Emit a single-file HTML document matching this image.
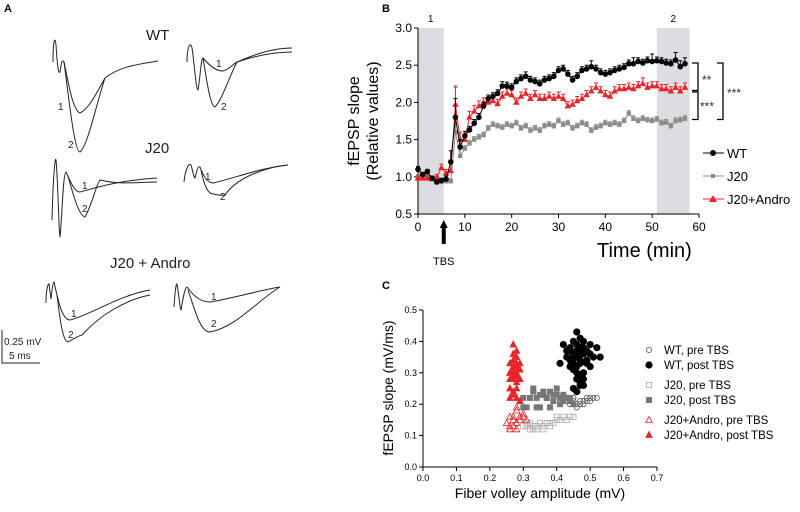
<!DOCTYPE html>
<html><head><meta charset="utf-8"><style>
body{margin:0;background:#fff}
svg{font-family:"Liberation Sans",sans-serif}
</style></head><body>
<svg width="800" height="507" viewBox="0 0 800 507">
<g fill="none" stroke="#222" stroke-width="1">
<text x="4" y="12" font-size="11" font-weight="bold" fill="#000" stroke="none">A</text>
<text x="146" y="40" font-size="15" fill="#222" stroke="none">WT</text>
<path d="M53,62 C53,40 55,35 56,45 C57,60 58,75 60,72 C61,65 62,58 64,62 C67,75 72,110 80,113 C90,108 98,90 105,78 C120,66 140,64 158,61"/>
<path d="M64,62 C68,90 74,152 80,152 C88,145 96,105 105,78"/>
<path d="M187,62 C187,48 190,40 192,48 C194,60 196,90 198,90 C200,80 201,58 203,58 C208,64 215,71 223,71 C230,69 233,64 237,62 C255,56 275,52 292,52"/>
<path d="M203,58 C206,75 210,107 215,107 C222,100 230,75 237,62 C255,54 275,48 292,48"/>
<text x="58" y="110" font-size="10" fill="#222" stroke="none">1</text>
<text x="68" y="148" font-size="10" fill="#222" stroke="none">2</text>
<text x="216" y="67" font-size="10" fill="#222" stroke="none">1</text>
<text x="221" y="110" font-size="10" fill="#222" stroke="none">2</text>
<text x="145" y="153" font-size="15" fill="#222" stroke="none">J20</text>
<path d="M52,220 C53,180 55,155 56,160 C58,180 59,237 60,237 C62,220 63,172 66,172 C70,180 74,192 80,192 C95,188 120,180 157,178"/>
<path d="M68,176 C72,190 78,215 85,217 C92,205 96,185 100,180 C120,185 140,182 157,182"/>
<path d="M184,182 C185,170 189,162 191,165 C193,172 194,178 195,178 C197,170 198,166 200,167 C203,175 207,183 213,183 C235,178 260,168 288,165"/>
<path d="M201,170 C204,185 208,194 213,194 C220,196 223,195 225,195 C235,180 260,168 288,165"/>
<text x="82" y="189" font-size="10" fill="#222" stroke="none">1</text>
<text x="82" y="212" font-size="10" fill="#222" stroke="none">2</text>
<text x="205" y="180" font-size="10" fill="#222" stroke="none">1</text>
<text x="220" y="200" font-size="10" fill="#222" stroke="none">2</text>
<text x="110" y="268" font-size="15" fill="#222" stroke="none">J20 + Andro</text>
<path d="M46,303 C46,290 48,283 49,284 C50,292 51,299 51,299 C52,290 53,282 54,282 C58,300 62,320 70,320 C90,315 120,295 150,290"/>
<path d="M57,295 C60,320 63,342 68,342 C75,338 80,335 82,335 C100,315 125,300 150,295"/>
<path d="M174,307 C175,292 176,283 177,284 C179,295 180,310 181,310 C183,298 185,287 187,287 C195,298 202,302 210,302 C235,298 260,290 280,287"/>
<path d="M188,290 C195,310 200,332 210,332 C235,328 258,300 280,287"/>
<text x="71" y="317" font-size="10" fill="#222" stroke="none">1</text>
<text x="68" y="338" font-size="10" fill="#222" stroke="none">2</text>
<text x="211" y="300" font-size="10" fill="#222" stroke="none">1</text>
<text x="211" y="327" font-size="10" fill="#222" stroke="none">2</text>
<path d="M2,330 V363 H40"/>
<text x="4" y="345" font-size="10" fill="#222" stroke="none">0.25 mV</text>
<text x="9" y="359" font-size="10" fill="#222" stroke="none">5 ms</text>
</g>
<g id="panelB"></g>
<g id="panelC"></g>
</svg>
<script>
const NS='http://www.w3.org/2000/svg';
function mk(p,t,a){const e=document.createElementNS(NS,t);for(const k in a)e.setAttribute(k,a[k]);p.appendChild(e);return e;}
// ---- Panel B data ----
const bTimes=[0,1,2,3,4,5,6,7,8,9,10,11,12,13,14,15,16,17,18,19,20,21,22,23,24,25,26,27,28,29,30,31,32,33,34,35,36,37,38,39,40,41,42,43,44,45,46,47,48,49,50,51,52,53,54,55,56,57];
const wtValues=[1.1,1.03,1.07,0.98,0.93,0.95,0.97,1.2,1.8,1.4,1.55,1.63,1.72,1.8,1.95,2.05,2.08,2.12,2.22,2.22,2.2,2.28,2.32,2.35,2.3,2.28,2.25,2.3,2.32,2.35,2.43,2.45,2.38,2.3,2.35,2.43,2.45,2.48,2.45,2.4,2.38,2.4,2.43,2.45,2.47,2.52,2.52,2.55,2.53,2.56,2.55,2.56,2.55,2.53,2.52,2.57,2.48,2.52];
const j20Values=[1.0,1.0,1.0,0.98,0.97,0.93,0.94,0.94,1.6,1.28,1.38,1.45,1.5,1.53,1.56,1.65,1.7,1.68,1.66,1.7,1.68,1.72,1.65,1.68,1.62,1.65,1.62,1.68,1.7,1.68,1.75,1.7,1.72,1.65,1.68,1.72,1.7,1.62,1.66,1.68,1.72,1.7,1.72,1.7,1.75,1.85,1.78,1.75,1.78,1.76,1.75,1.77,1.72,1.73,1.68,1.75,1.76,1.78];
const androValues=[0.98,0.98,0.98,0.97,1.0,1.12,1.05,1.08,1.97,1.5,1.5,1.8,1.88,1.95,2.0,2.0,2.02,1.98,2.08,2.12,2.1,2.0,2.08,2.12,2.05,2.1,2.05,2.05,2.08,2.05,2.08,2.05,1.95,1.97,2.02,2.05,2.1,2.15,2.2,2.15,2.1,2.08,2.15,2.18,2.18,2.2,2.18,2.22,2.25,2.2,2.22,2.22,2.18,2.18,2.15,2.2,2.15,2.2];
const wtErr=[0.04,0.03,0.03,0.03,0.03,0.03,0.04,0.15,0.25,0.1,0.06,0.05,0.05,0.05,0.05,0.05,0.05,0.05,0.06,0.05,0.05,0.05,0.05,0.06,0.05,0.05,0.05,0.05,0.05,0.05,0.05,0.05,0.05,0.05,0.05,0.05,0.05,0.08,0.05,0.05,0.05,0.05,0.05,0.05,0.05,0.05,0.08,0.05,0.05,0.05,0.1,0.05,0.05,0.05,0.05,0.1,0.08,0.08];
const j20Err=[0.03,0.03,0.03,0.03,0.03,0.03,0.03,0.03,0.6,0.1,0.04,0.04,0.04,0.04,0.04,0.04,0.04,0.04,0.04,0.04,0.04,0.04,0.04,0.04,0.04,0.04,0.04,0.04,0.04,0.04,0.04,0.04,0.04,0.04,0.04,0.04,0.04,0.04,0.04,0.04,0.04,0.04,0.04,0.04,0.04,0.04,0.04,0.04,0.04,0.04,0.04,0.04,0.04,0.04,0.04,0.04,0.04,0.04];
const androErr=[0.03,0.03,0.03,0.03,0.03,0.05,0.05,0.1,0.25,0.1,0.08,0.08,0.08,0.07,0.06,0.06,0.06,0.06,0.06,0.06,0.06,0.06,0.06,0.06,0.06,0.06,0.06,0.06,0.06,0.06,0.06,0.06,0.06,0.06,0.06,0.06,0.06,0.06,0.06,0.06,0.06,0.06,0.06,0.06,0.06,0.06,0.06,0.06,0.08,0.06,0.06,0.06,0.06,0.06,0.06,0.06,0.06,0.06];
const bXTicks=[0,10,20,30,40,50,60];
const bYTicks=[0.5,1.0,1.5,2.0,2.5,3.0];
// ---- Panel C data ----
const wtPreX=[0.43,0.44,0.45,0.46,0.47,0.48,0.49,0.50,0.51,0.52,0.46,0.47,0.44,0.50,0.48,0.45,0.42,0.49];
const wtPreY=[0.21,0.20,0.21,0.20,0.21,0.21,0.22,0.21,0.22,0.22,0.19,0.20,0.21,0.22,0.20,0.22,0.21,0.21];
const wtPostX=[0.41,0.42,0.43,0.44,0.45,0.46,0.47,0.48,0.49,0.50,0.51,0.52,0.53,0.44,0.45,0.46,0.47,0.48,0.49,0.50,0.45,0.46,0.47,0.48,0.46,0.47,0.48,0.45,0.46,0.47,0.48,0.46,0.47,0.45,0.49,0.43,0.44,0.46,0.47,0.48,0.46,0.45,0.47,0.44,0.50];
const wtPostY=[0.33,0.39,0.35,0.38,0.40,0.37,0.36,0.38,0.37,0.39,0.35,0.38,0.35,0.34,0.33,0.35,0.34,0.36,0.33,0.32,0.31,0.30,0.29,0.30,0.28,0.27,0.26,0.25,0.24,0.26,0.28,0.43,0.41,0.36,0.34,0.37,0.32,0.32,0.38,0.40,0.39,0.35,0.33,0.37,0.36];
const j20PreX=[0.30,0.31,0.32,0.33,0.34,0.35,0.36,0.37,0.38,0.39,0.40,0.41,0.42,0.43,0.44,0.45,0.32,0.34,0.36,0.38,0.40,0.33,0.31];
const j20PreY=[0.13,0.14,0.12,0.13,0.12,0.14,0.13,0.14,0.13,0.14,0.15,0.15,0.16,0.15,0.16,0.16,0.14,0.13,0.12,0.14,0.16,0.12,0.13];
const j20PostX=[0.30,0.31,0.32,0.33,0.34,0.35,0.36,0.37,0.38,0.39,0.40,0.41,0.42,0.43,0.44,0.45,0.33,0.35,0.37,0.39,0.41,0.34,0.36,0.38,0.40,0.30,0.42,0.44];
const j20PostY=[0.22,0.19,0.22,0.24,0.22,0.19,0.23,0.22,0.24,0.21,0.23,0.22,0.21,0.22,0.21,0.20,0.25,0.23,0.22,0.23,0.20,0.19,0.24,0.19,0.25,0.19,0.23,0.22];
const androPreX=[0.25,0.26,0.27,0.28,0.29,0.30,0.31,0.26,0.27,0.28,0.29,0.28,0.27,0.30,0.26,0.28];
const androPreY=[0.14,0.12,0.16,0.18,0.15,0.17,0.15,0.16,0.13,0.12,0.16,0.19,0.15,0.16,0.13,0.14];
const androPostX=[0.27,0.28,0.26,0.27,0.28,0.29,0.27,0.28,0.26,0.27,0.28,0.29,0.27,0.28,0.26,0.27,0.28,0.29,0.26,0.27,0.28,0.27,0.28,0.29,0.26,0.27,0.28,0.27,0.28,0.26];
const androPostY=[0.39,0.37,0.33,0.34,0.35,0.33,0.32,0.31,0.30,0.30,0.32,0.31,0.29,0.29,0.28,0.28,0.27,0.28,0.25,0.24,0.25,0.23,0.22,0.21,0.22,0.36,0.30,0.31,0.33,0.30];
const cXTicks=[0,0.1,0.2,0.3,0.4,0.5,0.6,0.7];
const cYTicks=[0,0.1,0.2,0.3,0.4,0.5];

// ---- Draw B ----
const B=document.getElementById('panelB');
const bx=v=>418+v*(699-418)/60, by=v=>214-(v-0.5)*(214-28)/2.5;
mk(B,'text',{x:382,y:12,'font-size':11,'font-weight':'bold'}).textContent='B';
const band1=mk(B,'rect',{x:bx(0),y:by(3),width:bx(5.5)-bx(0),height:by(0.5)-by(3),fill:'#dcdde0'});

const band2=mk(B,'rect',{x:bx(51),y:by(3),width:bx(58)-bx(51),height:by(0.5)-by(3),fill:'#dcdde0'});

mk(B,'text',{x:bx(2.7),y:22,'font-size':10,'text-anchor':'middle'}).textContent='1';
mk(B,'text',{x:bx(54.5),y:22,'font-size':10,'text-anchor':'middle'}).textContent='2';
const bax=mk(B,'path',{d:`M${bx(0)},${by(3)} V${by(0.5)} H${bx(60)}`,stroke:'#000',fill:'none'});

bXTicks.forEach(t=>{mk(B,'line',{x1:bx(t),x2:bx(t),y1:by(0.5),y2:by(0.5)+4,stroke:'#000'});
 const tx=mk(B,'text',{x:bx(t),y:by(0.5)+17,'font-size':12,'text-anchor':'middle'});tx.textContent=t;
 });
bYTicks.forEach(t=>{mk(B,'line',{x1:bx(0)-4,x2:bx(0),y1:by(t),y2:by(t),stroke:'#000'});
 const tx=mk(B,'text',{x:bx(0)-6,y:by(t)+4,'font-size':12,'text-anchor':'end'});tx.textContent=t.toFixed(1);
 });
const byl=mk(B,'text',{transform:'translate(362,121) rotate(-90)','font-size':16,'text-anchor':'middle'});

mk(byl,'tspan',{x:0,dy:-3}).textContent='fEPSP slope';mk(byl,'tspan',{x:0,dy:19}).textContent='(Relative values)';
const bxl=mk(B,'text',{x:597,y:257,'font-size':20});bxl.textContent='Time (min)';

const arr=mk(B,'path',{d:`M${bx(5.5)},220 L${bx(5.5)-4},228 H${bx(5.5)-2} V244 H${bx(5.5)+2} V228 H${bx(5.5)+4} Z`,fill:'#000'});

const tbs=mk(B,'text',{x:bx(5.5),y:265,'font-size':11,'text-anchor':'middle'});tbs.textContent='TBS';

function series(vals,errs,color,shape,name){
 const g=mk(B,'g',{});
 mk(g,'polyline',{points:bTimes.map((t,i)=>bx(t)+','+by(vals[i])).join(' '),fill:'none',stroke:color,'stroke-width':1});
 bTimes.forEach((t,i)=>{const x=bx(t),y=by(vals[i]),ye=by(vals[i]+errs[i]);
  mk(g,'path',{d:`M${x},${y} V${ye} M${x-2},${ye} H${x+2}`,stroke:color,fill:'none'});
  let m;
  if(shape==='c')m=mk(g,'circle',{cx:x,cy:y,r:2.8,fill:color});
  else if(shape==='s')m=mk(g,'rect',{x:x-2.2,y:y-2.2,width:4.4,height:4.4,fill:color});
  else m=mk(g,'path',{d:`M${x},${y-3.5} L${x+3.3},${y+2.3} L${x-3.3},${y+2.3} Z`,fill:color});
  });
}
series(j20Values,j20Err,'#8c8c8c','s','j20-series');
series(androValues,androErr,'#e8252a','t','andro-series');
series(wtValues,wtErr,'#000','c','wt-series');
const br=mk(B,'path',{d:`M692,${by(2.53)} H698 V${by(2.16)} H692 M692,${by(2.14)} H698 V${by(1.77)} H692 M717,${by(2.53)} H723 V${by(1.77)} H717`,stroke:'#000','stroke-width':1.3,fill:'none'});

mk(B,'text',{x:702,y:by(2.33)+6,'font-size':12,fill:'#333'}).textContent='**';
mk(B,'text',{x:700,y:by(1.97)+6,'font-size':12,fill:'#333'}).textContent='***';
mk(B,'text',{x:727,y:by(2.15)+6,'font-size':12,fill:'#333'}).textContent='***';
[['WT','#000','c',153],['J20','#8c8c8c','s',176],['J20+Andro','#e8252a','t',199]].forEach(([l,c,s,y])=>{
 const g=mk(B,'g',{});
 mk(g,'line',{x1:703,x2:724,y1:y,y2:y,stroke:c});
 if(s==='c')mk(g,'circle',{cx:713,cy:y,r:3,fill:c});else if(s==='s')mk(g,'rect',{x:711,y:y-2,width:4,height:4,fill:c});
 else mk(g,'path',{d:`M713,${y-4} L717,${y+3} L709,${y+3} Z`,fill:c});
 mk(g,'text',{x:727,y:y+5,'font-size':13}).textContent=l;});
// ---- Draw C ----
const C=document.getElementById('panelC');
const cx=v=>423+v*(657-423)/0.7, cy=v=>467-v*(467-310)/0.5;
mk(C,'text',{x:382,y:289,'font-size':11,'font-weight':'bold'}).textContent='C';
const cax=mk(C,'path',{d:`M${cx(0)},${cy(0.5)} V${cy(0)} H${cx(0.7)}`,stroke:'#000',fill:'none'});

cXTicks.forEach(t=>{mk(C,'line',{x1:cx(t),x2:cx(t),y1:cy(0),y2:cy(0)+4,stroke:'#000'});
 const tx=mk(C,'text',{x:cx(t),y:cy(0)+14,'font-size':9,'text-anchor':'middle'});tx.textContent=t.toFixed(1);
 });
cYTicks.forEach(t=>{mk(C,'line',{x1:cx(0)-4,x2:cx(0),y1:cy(t),y2:cy(t),stroke:'#000'});
 const tx=mk(C,'text',{x:cx(0)-6,y:cy(t)+3,'font-size':9,'text-anchor':'end'});tx.textContent=t.toFixed(1);
 });
const cyl=mk(C,'text',{transform:'translate(393,388) rotate(-90)','font-size':14,'text-anchor':'middle'});cyl.textContent='fEPSP slope (mV/ms)';

const cxl=mk(C,'text',{x:cx(0.35),y:498,'font-size':14,'text-anchor':'middle'});cxl.textContent='Fiber volley amplitude (mV)';

function marker(g,s,x,y,c,fill){
 let m;
 if(s==='c')m=mk(g,'circle',{cx:x,cy:y,r:fill?3.2:2.6,fill:fill?c:'none',stroke:c,'stroke-width':0.8});
 else if(s==='s')m=mk(g,'rect',{x:x-2.6,y:y-2.6,width:5.2,height:5.2,fill:fill?c:'none',stroke:c,'stroke-width':0.8});
 else m=mk(g,'path',{d:`M${x},${y-3.5} L${x+3.2},${y+2.5} L${x-3.2},${y+2.5} Z`,fill:fill?c:'none',stroke:c,'stroke-width':0.8});
 return m;}
function scatter(xs,ys,s,c,fill,name){
 const g=mk(C,'g',{});
 xs.forEach((v,i)=>{const m=marker(g,s,cx(v),cy(ys[i]),c,fill);
  });}
scatter(j20PreX,j20PreY,'s','#aaa',false,'j20-pre-scatter');
scatter(androPreX,androPreY,'t','#e8252a',false,'andro-pre-scatter');
scatter(wtPreX,wtPreY,'c','#555',false,'wt-pre-scatter');
scatter(j20PostX,j20PostY,'s','#777',true,'j20-post-scatter');
scatter(androPostX,androPostY,'t','#e8252a',true,'andro-post-scatter');
scatter(wtPostX,wtPostY,'c','#000',true,'wt-post-scatter');
[['WT, pre TBS','c','#555',false,350],['WT, post TBS','c','#000',true,365],['J20, pre TBS','s','#aaa',false,385],['J20, post TBS','s','#777',true,400],['J20+Andro, pre TBS','t','#e8252a',false,420],['J20+Andro, post TBS','t','#e8252a',true,435]].forEach(([l,s,c,f,y])=>{
 const g=mk(C,'g',{});
 marker(g,s,649,y,c,f);mk(g,'text',{x:664,y:y+4,'font-size':11.5}).textContent=l;});
</script>
</body></html>
